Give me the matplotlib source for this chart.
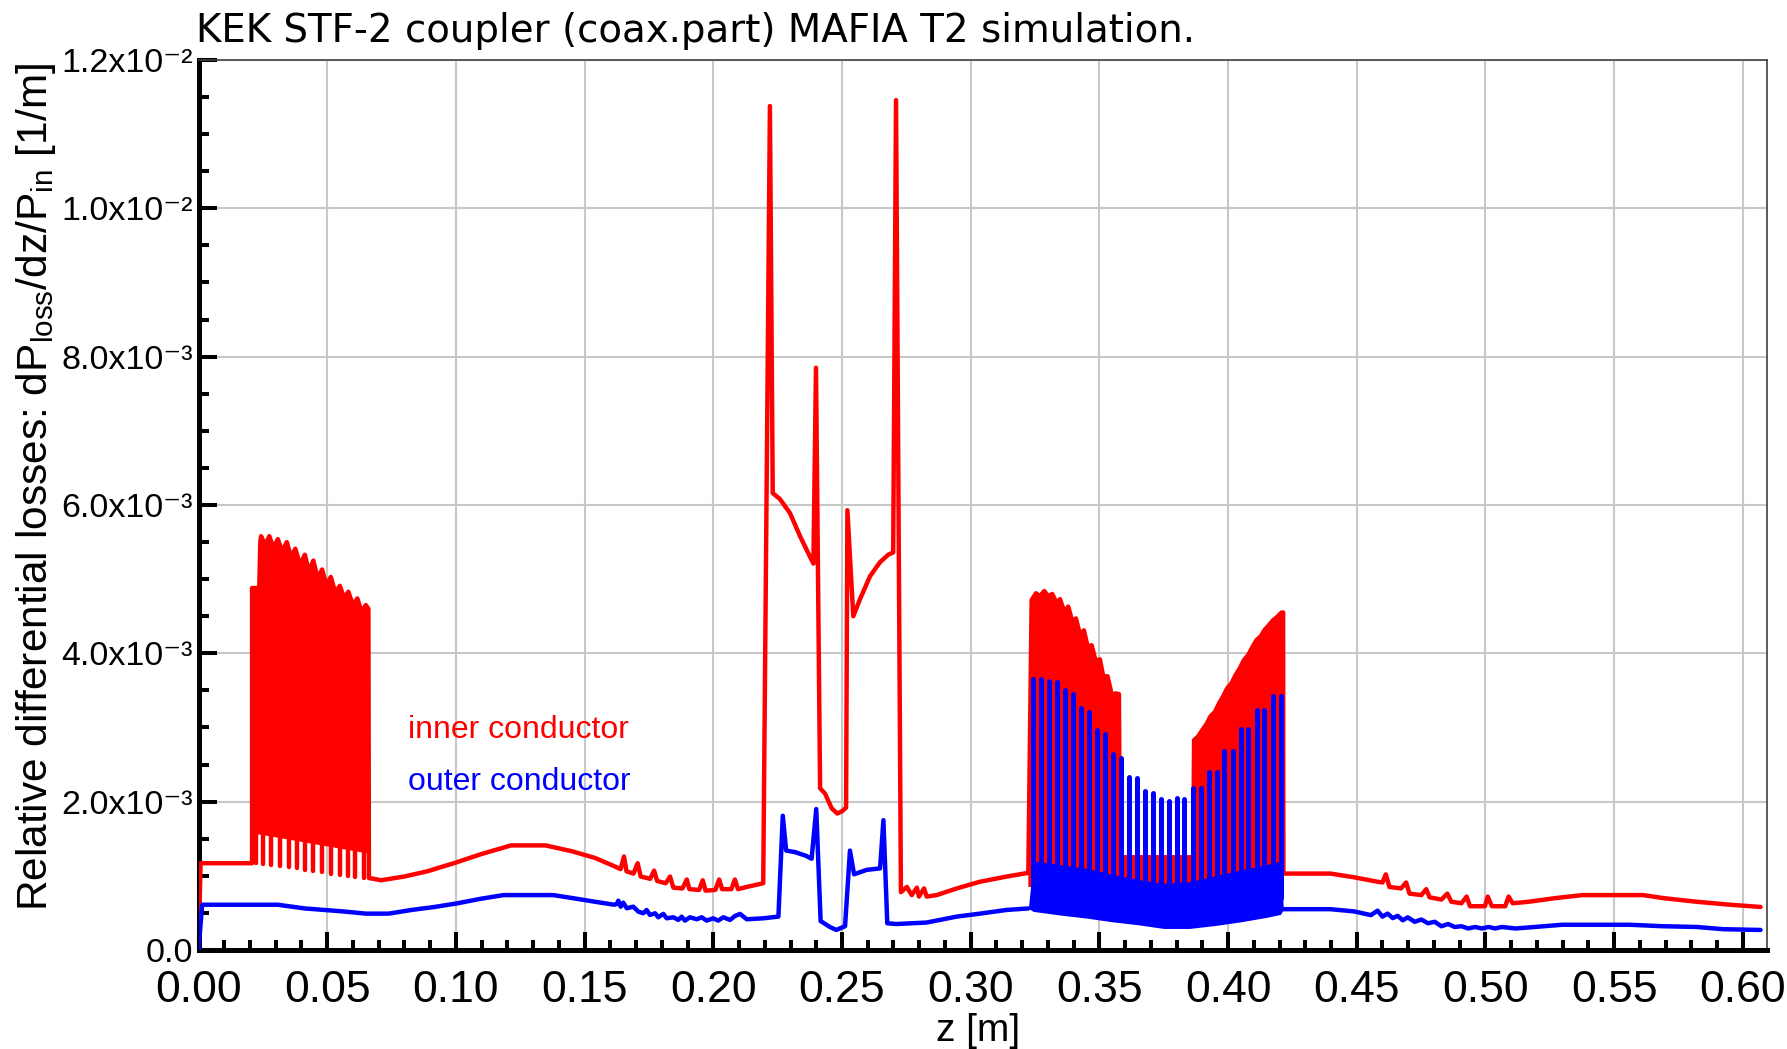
import numpy as np
import matplotlib
matplotlib.use('Agg')
import matplotlib.pyplot as plt
from matplotlib.ticker import MultipleLocator

SANS = ['Liberation Sans', 'DejaVu Sans']
plt.rcParams['font.family'] = SANS
plt.rcParams['mathtext.fontset'] = 'custom'
plt.rcParams['mathtext.rm'] = 'Liberation Sans'
plt.rcParams['mathtext.it'] = 'Liberation Sans:italic'
plt.rcParams['mathtext.bf'] = 'Liberation Sans:bold'

S = 1e-3  # all y values below are in units of 1e-3 1/m

# ---- inner conductor (red) ----
red_z1 = [0.0, 0.0008, 0.0208]
red_y1 = [0.0, 1.17, 1.17]

band1_top_z = [0.0208, 0.0236, 0.0240, 0.0243, 0.0259, 0.0275, 0.0291, 0.0308, 0.0325, 0.0343,
               0.0359, 0.0376, 0.0395, 0.0413, 0.0429, 0.0446, 0.0463, 0.0480, 0.0497, 0.0514,
               0.0531, 0.0549, 0.0566, 0.0582, 0.0600, 0.0617, 0.0633, 0.0650, 0.0660]
band1_top_y = [4.88, 4.88, 5.50, 5.58, 5.46, 5.58, 5.42, 5.54, 5.37, 5.50,
               5.30, 5.41, 5.19, 5.33, 5.10, 5.25, 5.01, 5.13, 4.92, 5.03,
               4.82, 4.91, 4.74, 4.83, 4.65, 4.74, 4.56, 4.65, 4.60]
band1_base_z = [0.0662, 0.0660, 0.0215, 0.0208]
band1_base_y = [0.97, 1.30, 1.57, 1.17]
band1_dip_z = [0.0222, 0.0252, 0.0282, 0.0317, 0.0350, 0.0383, 0.0413,
               0.0445, 0.0479, 0.0516, 0.0549, 0.0579, 0.0608, 0.0643]
band1_dip_y = [1.17, 1.16, 1.15, 1.13, 1.12, 1.10, 1.08,
               1.07, 1.05, 1.03, 1.01, 1.00, 0.99, 0.97]

red_z2 = [0.0662, 0.0680, 0.0709, 0.0799, 0.0888, 0.0992, 0.1096, 0.1214, 0.1348, 0.1452,
          0.1541, 0.1615, 0.1640, 0.1653, 0.1663, 0.1690, 0.1706, 0.1718, 0.1755, 0.1770,
          0.1782, 0.1815, 0.1832, 0.1845, 0.1880, 0.1897, 0.1907, 0.1945, 0.1959, 0.1970,
          0.2008, 0.2023, 0.2034, 0.2070, 0.2084, 0.2096, 0.2130, 0.2194, 0.2220, 0.2231,
          0.2259, 0.2298, 0.2337, 0.2369, 0.2389, 0.2399, 0.2415, 0.2434, 0.2460, 0.2482,
          0.2500, 0.2516, 0.2521, 0.2544, 0.2570, 0.2609, 0.2648, 0.2680, 0.2699, 0.2710,
          0.2729, 0.2752, 0.2771, 0.2791, 0.2799, 0.2819, 0.2829, 0.2868, 0.2946, 0.3036,
          0.3140, 0.3224]
red_y2 = [0.97, 0.96, 0.94, 0.99, 1.06, 1.17, 1.29, 1.41, 1.41, 1.33,
          1.24, 1.13, 1.09, 1.26, 1.06, 1.03, 1.17, 0.99, 0.96, 1.07,
          0.93, 0.90, 0.99, 0.84, 0.83, 0.95, 0.82, 0.81, 0.94, 0.80,
          0.81, 0.95, 0.82, 0.82, 0.95, 0.82, 0.85, 0.90, 11.38, 6.16,
          6.08, 5.89, 5.58, 5.35, 5.21, 7.85, 2.18, 2.11, 1.91, 1.84,
          1.87, 1.92, 5.93, 4.50, 4.73, 5.04, 5.23, 5.33, 5.36, 11.46,
          0.78, 0.85, 0.74, 0.84, 0.72, 0.83, 0.72, 0.74, 0.83, 0.92,
          0.99, 1.04]

band2_top_z = [0.3224, 0.3237, 0.3254, 0.3269, 0.3286, 0.3301, 0.3317, 0.3334, 0.3347, 0.3364,
               0.3379, 0.3395, 0.3409, 0.3425, 0.3440, 0.3455, 0.3470, 0.3486, 0.3502, 0.3515,
               0.3532, 0.3548, 0.3563, 0.3576, 0.3580, 0.3865,
               0.3868, 0.3884, 0.3901, 0.3917, 0.3932, 0.3949, 0.3966, 0.3981, 0.3997, 0.4014,
               0.4030, 0.4046, 0.4062, 0.4079, 0.4094, 0.4111, 0.4127, 0.4143, 0.4159, 0.4176,
               0.4191, 0.4208, 0.4214, 0.4215]
band2_top_y = [1.04, 4.72, 4.81, 4.77, 4.84, 4.77, 4.80, 4.68, 4.73, 4.56,
               4.63, 4.43, 4.47, 4.25, 4.31, 4.08, 4.11, 3.89, 3.92, 3.69,
               3.69, 3.44, 3.46, 3.45, 1.25, 1.25,
               2.83, 2.88, 2.97, 3.05, 3.15, 3.21, 3.33, 3.42, 3.53, 3.60,
               3.71, 3.80, 3.91, 3.98, 4.08, 4.18, 4.23, 4.32, 4.38, 4.45,
               4.49, 4.55, 4.55, 1.03]
band2_base_z = [0.4215, 0.3224]
band2_base_y = [0.85, 0.85]

red_z3 = [0.4215, 0.4268, 0.4398, 0.4490, 0.4581, 0.4600, 0.4613, 0.4627, 0.4672, 0.4692,
          0.4705, 0.4751, 0.4770, 0.4783, 0.4829, 0.4852, 0.4868, 0.4907, 0.4927, 0.4940,
          0.4998, 0.5009, 0.5025, 0.5077, 0.5090, 0.5106, 0.5168, 0.5273, 0.5377, 0.5495,
          0.5612, 0.5690, 0.5821, 0.5951, 0.6069]
red_y3 = [1.03, 1.03, 1.03, 0.98, 0.92, 0.91, 1.02, 0.85, 0.83, 0.91,
          0.76, 0.74, 0.82, 0.71, 0.68, 0.76, 0.65, 0.63, 0.72, 0.59,
          0.59, 0.72, 0.59, 0.59, 0.72, 0.63, 0.65, 0.70, 0.74, 0.74,
          0.74, 0.70, 0.65, 0.61, 0.58]

# ---- outer conductor (blue) ----
blue_z1 = [0.0, 0.0014, 0.0308, 0.0413, 0.0487, 0.0561, 0.0650, 0.0739, 0.0828, 0.0917,
           0.1007, 0.1096, 0.1185, 0.1304, 0.1378, 0.1452, 0.1541, 0.1615, 0.1625, 0.1631,
           0.1640, 0.1650, 0.1664, 0.1689, 0.1709, 0.1728, 0.1741, 0.1754, 0.1774, 0.1786,
           0.1806, 0.1819, 0.1845, 0.1864, 0.1877, 0.1890, 0.1909, 0.1936, 0.1955, 0.1974,
           0.2000, 0.2019, 0.2039, 0.2065, 0.2084, 0.2104, 0.2130, 0.2194, 0.2253, 0.2270,
           0.2283, 0.2317, 0.2360, 0.2382, 0.2400, 0.2417, 0.2453, 0.2478, 0.2512, 0.2531,
           0.2547, 0.2596, 0.2648, 0.2661, 0.2676, 0.2712, 0.2829, 0.2946, 0.3036, 0.3140,
           0.3224]
blue_y1 = [0.0, 0.61, 0.61, 0.56, 0.54, 0.52, 0.49, 0.49, 0.54, 0.58,
           0.63, 0.69, 0.74, 0.74, 0.74, 0.70, 0.65, 0.61, 0.62, 0.665,
           0.584, 0.638, 0.562, 0.584, 0.517, 0.495, 0.539, 0.472, 0.495, 0.441,
           0.486, 0.427, 0.441, 0.405, 0.449, 0.396, 0.441, 0.414, 0.441, 0.396,
           0.427, 0.396, 0.441, 0.405, 0.458, 0.486, 0.414, 0.427, 0.45, 1.81,
           1.34, 1.32, 1.27, 1.23, 1.90, 0.39, 0.31, 0.27, 0.32, 1.34,
           1.02, 1.08, 1.10, 1.75, 0.36, 0.35, 0.37, 0.45, 0.49, 0.54,
           0.56]

blue_band_z = [0.3224, 0.3243, 0.335, 0.345, 0.355, 0.365, 0.375, 0.385, 0.395, 0.405, 0.415, 0.4204, 0.4215]
blue_band_low = [0.56, 0.52, 0.47, 0.43, 0.38, 0.34, 0.29, 0.29, 0.33, 0.38, 0.44, 0.48, 0.55]
blue_band_high = [0.56, 1.20, 1.15, 1.10, 1.02, 0.95, 0.90, 0.92, 1.00, 1.08, 1.15, 1.20, 0.55]
blue_spike_z = [0.3243, 0.3273, 0.3304, 0.3337, 0.3366, 0.3396, 0.3429, 0.3460, 0.3492, 0.3522,
                0.3554, 0.3584, 0.3615, 0.3647, 0.3677, 0.3707, 0.3738, 0.3770, 0.3800, 0.3830,
                0.3862, 0.3894, 0.3926, 0.3956, 0.3985, 0.4018, 0.4049, 0.4079, 0.4111, 0.4141,
                0.4173, 0.4204]
blue_spike_y = [3.65, 3.65, 3.63, 3.61, 3.50, 3.45, 3.26, 3.21, 2.97, 2.91,
                2.64, 2.59, 2.33, 2.32, 2.15, 2.12, 2.03, 2.01, 2.05, 2.04,
                2.18, 2.18, 2.40, 2.40, 2.68, 2.68, 2.98, 2.98, 3.24, 3.24,
                3.43, 3.43]

blue_z3 = [0.4215, 0.4268, 0.4398, 0.4490, 0.4555, 0.4581, 0.4600, 0.4620, 0.4640, 0.4659,
           0.4679, 0.4698, 0.4725, 0.4751, 0.4777, 0.4803, 0.4829, 0.4855, 0.4881, 0.4907,
           0.4933, 0.4960, 0.4986, 0.5012, 0.5038, 0.5064, 0.5090, 0.5116, 0.5155, 0.5299,
           0.5429, 0.5560, 0.5690, 0.5821, 0.5925, 0.6069]
blue_y3 = [0.55, 0.55, 0.55, 0.52, 0.47, 0.53, 0.45, 0.49, 0.43, 0.46,
           0.40, 0.44, 0.38, 0.41, 0.36, 0.38, 0.32, 0.35, 0.31, 0.32,
           0.29, 0.31, 0.29, 0.31, 0.29, 0.31, 0.30, 0.29, 0.30, 0.34,
           0.34, 0.34, 0.32, 0.31, 0.28, 0.27]

x_ticks = [0.00, 0.05, 0.10, 0.15, 0.20, 0.25, 0.30, 0.35, 0.40, 0.45, 0.50, 0.55, 0.60]
x_labels = ['0.00', '0.05', '0.10', '0.15', '0.20', '0.25', '0.30', '0.35', '0.40', '0.45', '0.50', '0.55', '0.60']
y_ticks = [0.0, 2e-3, 4e-3, 6e-3, 8e-3, 1e-2, 1.2e-2]
y_labels = ['0.0', '2.0x10\u207b\u00b3', '4.0x10\u207b\u00b3', '6.0x10\u207b\u00b3',
            '8.0x10\u207b\u00b3', '1.0x10\u207b\u00b2', '1.2x10\u207b\u00b2']

RED = '#ff0000'
BLUE = '#0000ff'
LW = 3.2
line_kw = dict(lw=LW, solid_joinstyle='round', solid_capstyle='round')

fig = plt.figure(figsize=(17.87, 10.49), dpi=100)
ax = fig.add_axes([0.1111, 0.0944, 0.8777, 0.8484])
ax.set_axisbelow(True)

sc = lambda v: np.array(v) * S

# red bands (filled) and red line
ax.fill(band1_top_z + band1_base_z, sc(band1_top_y + band1_base_y), color=RED, lw=0, zorder=2)
ax.vlines(band1_dip_z, sc(band1_dip_y), 1.6e-3, color=RED, lw=LW, capstyle='round', zorder=2)
ax.fill(band2_top_z + band2_base_z, sc(band2_top_y + band2_base_y), color=RED, lw=0, zorder=2)
ax.plot(red_z1 + band1_top_z + red_z2 + band2_top_z + red_z3,
        sc(red_y1 + band1_top_y + red_y2 + band2_top_y + red_y3), color=RED, zorder=3, **line_kw)

# blue
ax.fill_between(blue_band_z, sc(blue_band_low), sc(blue_band_high), color=BLUE, lw=0, zorder=4)
ax.vlines(blue_spike_z, 0.7e-3, sc(blue_spike_y), color=BLUE, lw=3.6, capstyle='round', zorder=4)
ax.plot(blue_z1, sc(blue_y1), color=BLUE, zorder=4, **line_kw)
ax.plot(blue_z3, sc(blue_y3), color=BLUE, zorder=4, **line_kw)

ax.text(0.0814, 2.97e-3, 'inner conductor', color=RED, fontsize=23, va='center')
ax.text(0.0814, 2.27e-3, 'outer conductor', color=BLUE, fontsize=23, va='center')

ax.set_xlim(0, 0.6094)
ax.set_ylim(0, 0.012)
ax.set_xticks(x_ticks)
ax.set_xticklabels(x_labels)
ax.set_yticks(y_ticks)
ax.set_yticklabels(y_labels)
ax.xaxis.set_minor_locator(MultipleLocator(0.01))
ax.yaxis.set_minor_locator(MultipleLocator(0.0005))
ax.tick_params(which='major', direction='in', length=13, width=2.9)
ax.tick_params(which='minor', direction='in', length=7.5, width=2.9)
ax.tick_params(axis='x', labelsize=32, pad=14.5)
ax.tick_params(axis='y', labelsize=24.5, pad=4)
ax.grid(True, which='major', color='#c8c8c8', lw=1.5)
for side in ['left', 'bottom']:
    ax.spines[side].set_linewidth(3.6)
    ax.spines[side].set_color('black')
for side in ['top', 'right']:
    ax.spines[side].set_linewidth(1.2)
    ax.spines[side].set_color('#404040')

fig.text(196 / 1787, 1 - 31 / 1049, 'KEK STF-2 coupler (coax.part) MAFIA T2 simulation.',
         family='DejaVu Sans', fontsize=27.9, ha='left', va='center')
fig.text(978 / 1787, 1 - 1041 / 1049, 'z [m]', fontsize=28, ha='center', va='baseline')
fig.text(36 / 1787, 1 - 487 / 1049,
         r'Relative differential losses: dP$_{\mathrm{loss}}$/dz/P$_{\mathrm{in}}$ [1/m]',
         fontsize=30.5, rotation=90, ha='center', va='center')

fig.savefig('out.png', dpi=100)
